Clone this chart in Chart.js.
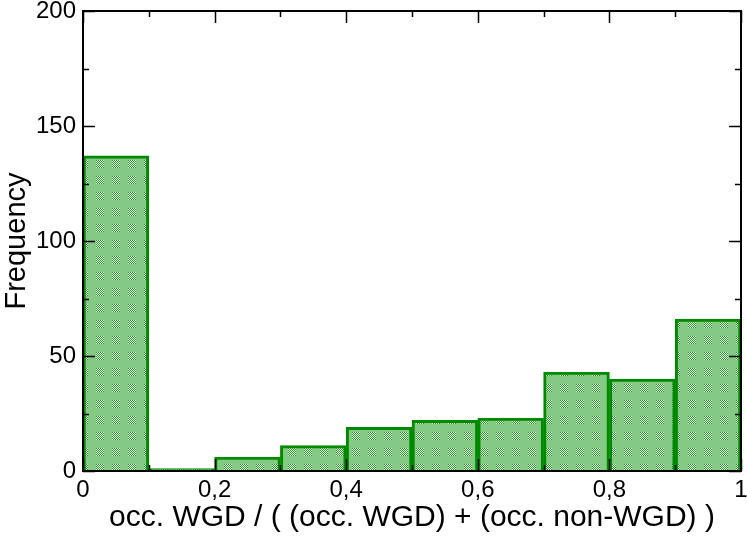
<!DOCTYPE html>
<html>
<head>
<meta charset="utf-8">
<script src="https://cdn.jsdelivr.net/npm/chart.js@4/dist/chart.umd.min.js"></script>
<style>
  html, body { margin: 0; padding: 0; background: #fff; }
  #wrap { width: 747px; height: 537px; }
</style>
</head>
<body>
<div id="wrap"><canvas id="hist"></canvas></div>
<script>
// --- data ---
const binCenters = [0.05, 0.15, 0.25, 0.35, 0.45, 0.55, 0.65, 0.75, 0.85, 0.95];
const counts = [137, 1, 6, 11, 19, 22, 23, 43, 40, 66];
const xMajorTicks = [0, 0.2, 0.4, 0.6, 0.8, 1];
const xMinorTicks = [0.1, 0.3, 0.5, 0.7, 0.9];
const yMajorTicks = [0, 50, 100, 150, 200];
const yMinorTicks = [25, 75, 125, 175];

const FONT = "'Liberation Sans', Arial, sans-serif";

// checkered green fill like the original
function makePattern() {
  const c = document.createElement("canvas");
  c.width = 16; c.height = 16;
  const g = c.getContext("2d");
  g.fillStyle = "#84c984";
  g.fillRect(0, 0, 16, 16);
  for (let y = 0; y < 8; y++) {
    for (let x = 0; x < 8; x++) {
      g.fillStyle = (x + y) % 2 ? "#f2f8f2" : "#1c9a1c";
      g.fillRect(x, y, 1, 1);
    }
  }
  return g.createPattern(c, "repeat");
}

// frame + inward ticks on all four sides
const frameTicks = {
  id: "frameTicks",
  afterDraw(chart) {
    const { ctx, chartArea: a, scales } = chart;
    const xs = scales.x, ys = scales.y;
    ctx.save();
    ctx.strokeStyle = "#000";
    ctx.lineWidth = 1.5;
    ctx.beginPath();
    const tick = (vals, len, isX) => {
      vals.forEach(v => {
        if (isX) {
          const p = Math.round(xs.getPixelForValue(v)) + 0.5;
          ctx.moveTo(p, a.bottom); ctx.lineTo(p, a.bottom - len);
          ctx.moveTo(p, a.top); ctx.lineTo(p, a.top + len);
        } else {
          const p = Math.round(ys.getPixelForValue(v)) + 0.5;
          ctx.moveTo(a.left, p); ctx.lineTo(a.left + len, p);
          ctx.moveTo(a.right, p); ctx.lineTo(a.right - len, p);
        }
      });
    };
    tick(xMajorTicks, 12, true);
    tick(xMinorTicks, 6, true);
    tick(yMajorTicks, 12, false);
    tick(yMinorTicks, 6, false);
    ctx.stroke();
    ctx.lineWidth = 2;
    ctx.strokeRect(a.left, a.top, a.right - a.left, a.bottom - a.top);
    ctx.restore();
  }
};

new Chart(document.getElementById("hist"), {
  type: "bar",
  data: {
    datasets: [{
      data: binCenters.map((x, i) => ({ x, y: counts[i] })),
      backgroundColor: makePattern(),
      borderColor: "#008a00",
      borderWidth: 3,
      borderSkipped: "start",
      barPercentage: 1,
      categoryPercentage: 1
    }]
  },
  options: {
    responsive: true,
    maintainAspectRatio: false,
    animation: false,
    layout: { padding: { top: 11, right: 6 } },
    plugins: { legend: { display: false }, tooltip: { enabled: false } },
    scales: {
      x: {
        type: "linear",
        offset: false,
        min: 0, max: 1,
        grid: { display: false, drawTicks: false, offset: false },
        border: { display: false },
        afterBuildTicks: s => { s.ticks = xMajorTicks.map(v => ({ value: v })); },
        afterFit: s => { s.height = 66; s.paddingLeft = 0; s.paddingRight = 0; },
        ticks: {
          color: "#000", padding: 5,
          font: { family: FONT, size: 24 },
          callback: v => String(v).replace(".", ",")
        },
        title: {
          display: true, color: "#000", padding: { top: 0, bottom: 1 },
          text: "occ. WGD / ( (occ. WGD) + (occ. non-WGD) )",
          font: { family: FONT, size: 30 }
        }
      },
      y: {
        min: 0, max: 200,
        grid: { display: false, drawTicks: false },
        border: { display: false },
        afterBuildTicks: s => { s.ticks = yMajorTicks.map(v => ({ value: v })); },
        afterFit: s => { s.width = 83; s.paddingTop = 0; s.paddingBottom = 0; },
        ticks: {
          color: "#000", padding: 7,
          font: { family: FONT, size: 24 }
        },
        title: {
          display: true, color: "#000", padding: 0,
          text: "Frequency",
          font: { family: FONT, size: 29 }
        }
      }
    }
  },
  plugins: [frameTicks]
});
</script>
</body>
</html>
